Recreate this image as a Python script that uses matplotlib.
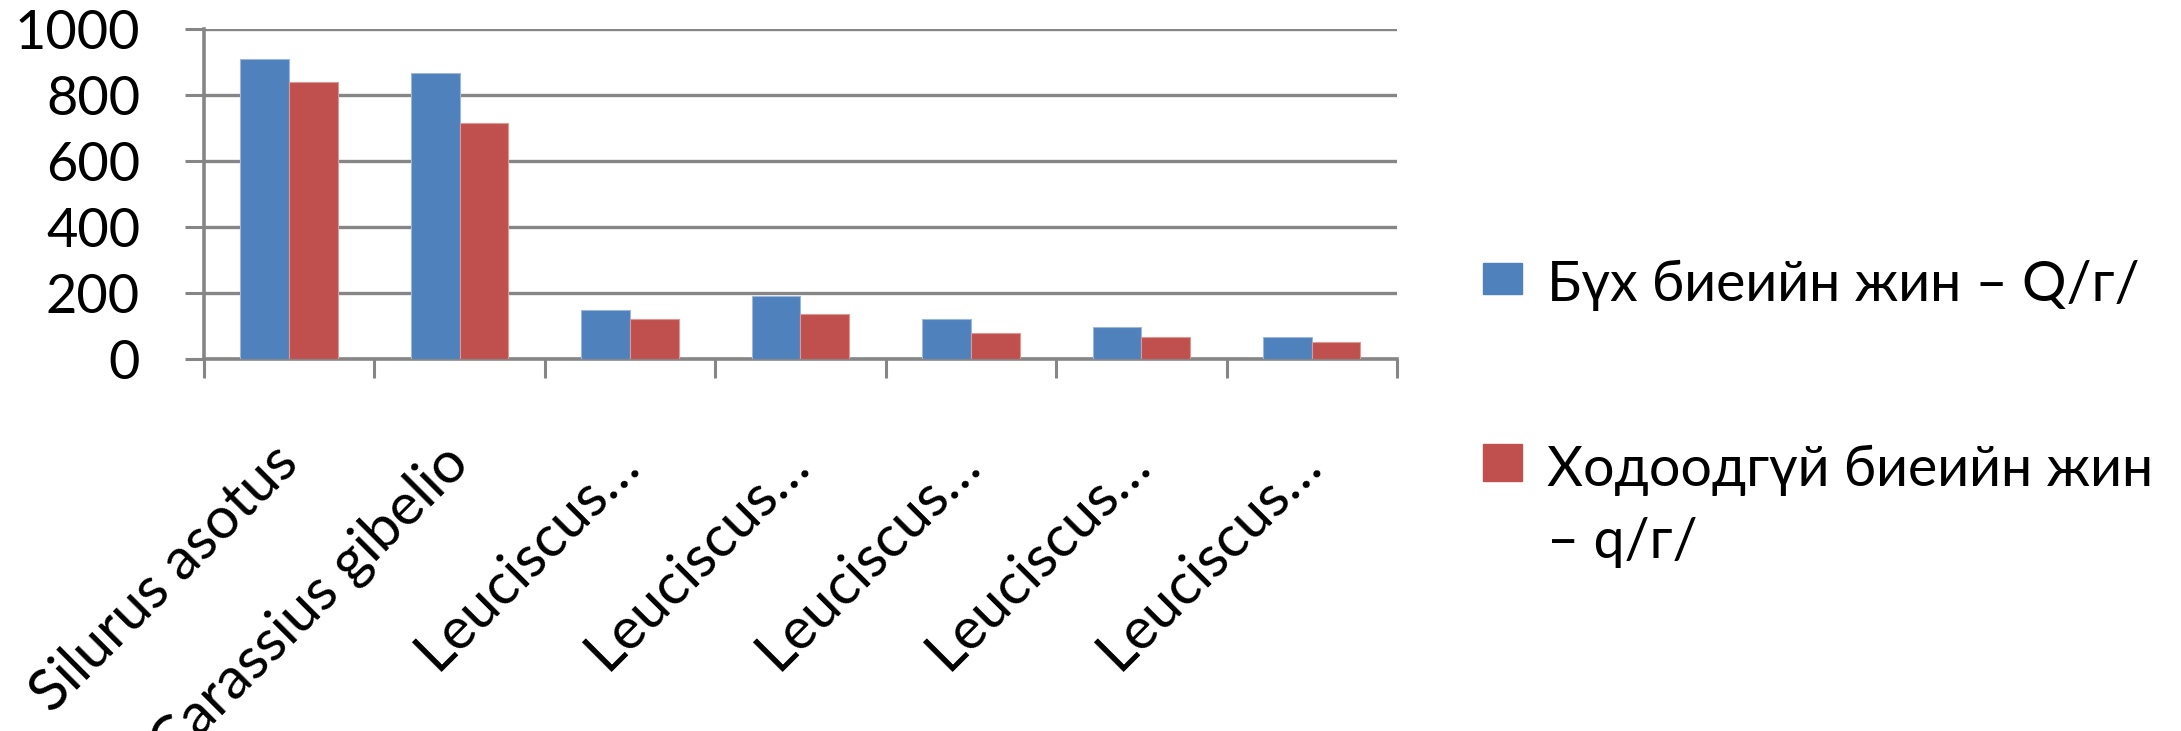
import numpy as np
import matplotlib
matplotlib.use("Agg")
import matplotlib.pyplot as plt
from matplotlib.patches import Rectangle

plt.rcParams["font.family"] = ["Lato", "DejaVu Sans"]

species = ["Silurus asotus", "Carassius gibelio", "Leuciscus…", "Leuciscus…",
           "Leuciscus…", "Leuciscus…", "Leuciscus…"]
total_weight = [910, 868, 148, 190, 122, 96, 68]
gutted_weight = [840, 715, 120, 135, 80, 68, 52]
series_names = ["Бүх биеийн жин – Q/г/", "Ходоодгүй биеийн жин", "– q/г/"]
y_ticks = [0, 200, 400, 600, 800, 1000]

blue = "#4F81BD"
red = "#C0504D"
grey = "#868686"

fig = plt.figure(figsize=(21.81, 7.31), dpi=100)
ax = fig.add_axes([0.0935, 0.509, 0.547, 0.451])

x = np.arange(len(species))
w = 0.286
ax.bar(x - w / 2, total_weight, width=w, color=blue, edgecolor="#9DB7DA",
       linewidth=0.8, zorder=3)
ax.bar(x + w / 2, gutted_weight, width=w, color=red, edgecolor="#DB9896",
       linewidth=0.8, zorder=3)

ax.set_xlim(-0.5, len(species) - 0.5)
ax.set_ylim(0, 1000)
ax.set_yticks(y_ticks)
ax.set_yticklabels([str(v) for v in y_ticks], fontsize=39)
ax.grid(axis="y", color=grey, linewidth=2.4, zorder=0)

ax.set_xticks(x)
ax.set_xticklabels(species, rotation=45, ha="right", va="center",
                   rotation_mode="anchor", fontsize=42)
ax.set_xticks(np.arange(-0.5, len(species)), minor=True)
ax.tick_params(axis="x", which="major", length=0, pad=69)
ax.tick_params(axis="x", which="minor", length=14, width=2.2, color=grey)
ax.tick_params(axis="y", length=14, width=2.2, color=grey, pad=32)

for side in ["top", "right"]:
    ax.spines[side].set_visible(False)
for side in ["left", "bottom"]:
    ax.spines[side].set_color(grey)
    ax.spines[side].set_linewidth(2.6)

# legend drawn by hand so the red box sits beside the first line
fig.patches.append(Rectangle((0.680, 0.598), 0.0179, 0.0424, color=blue,
                             transform=fig.transFigure, figure=fig))
fig.patches.append(Rectangle((0.680, 0.342), 0.0179, 0.0506, color=red,
                             transform=fig.transFigure, figure=fig))
fig.text(0.7093, 0.5882, series_names[0], fontsize=40, va="baseline")
fig.text(0.7093, 0.3352, series_names[1], fontsize=40, va="baseline")
fig.text(0.7093, 0.2367, series_names[2], fontsize=40, va="baseline")

fig.savefig("out.png", dpi=100)
